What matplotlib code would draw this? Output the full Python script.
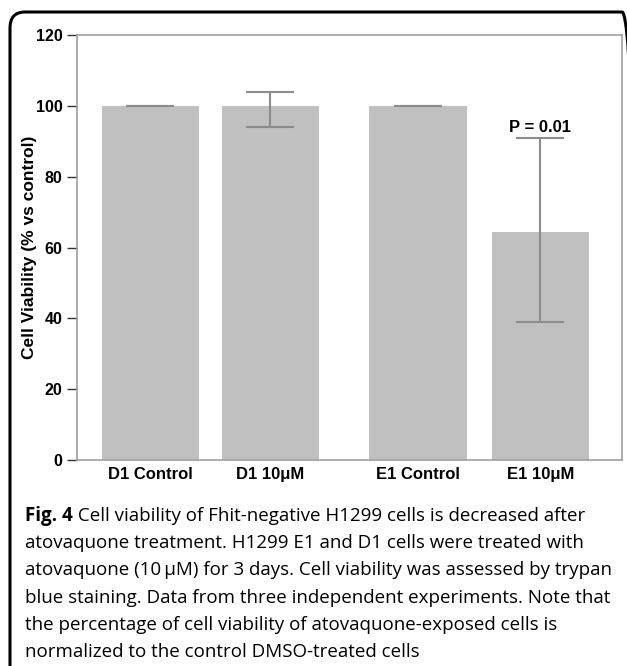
import matplotlib.pyplot as plt
from matplotlib.patches import FancyBboxPatch

# data
groups = ['D1 Control', 'D1 10\u03bcM', 'E1 Control', 'E1 10\u03bcM']
positions = [0, 1, 2.23, 3.25]
viability = [100, 100, 100, 64.5]
err_low = [0, 6, 0, 25.5]
err_high = [0, 4, 0, 26.5]
p_text = 'P = 0.01'

caption_bold = 'Fig. 4'
caption_lines = [
    ' Cell viability of Fhit-negative H1299 cells is decreased after',
    'atovaquone treatment. H1299 E1 and D1 cells were treated with',
    'atovaquone (10\u2009\u03bcM) for 3 days. Cell viability was assessed by trypan',
    'blue staining. Data from three independent experiments. Note that',
    'the percentage of cell viability of atovaquone-exposed cells is',
    'normalized to the control DMSO-treated cells',
]

W, H = 627, 666
fig = plt.figure(figsize=(W / 100, H / 100), dpi=100)

# rounded panel frame, cut off at the right and bottom
frame = FancyBboxPatch((10 / W, -0.05), 627 / W, 1.05 - 12 / H,
                       boxstyle='round,pad=0,rounding_size=0.024',
                       transform=fig.transFigure, fill=False,
                       edgecolor='black', linewidth=2.2, clip_on=False)
fig.patches.append(frame)

ax = fig.add_axes([77 / W, (H - 460) / H, 545 / W, 425 / H])
ax.bar(positions, viability, width=0.81, color='#c0c0c0', zorder=1)
ax.errorbar(positions, viability, yerr=[err_low, err_high], fmt='none',
            ecolor='#8c8c8c', elinewidth=1.5, capsize=17, capthick=1.5,
            zorder=2)
ax.text(positions[3], viability[3] + err_high[3] + 0.9, p_text,
        ha='center', va='bottom', fontsize=12, fontweight='bold',
        family='Liberation Sans')

ax.set_xlim(-0.61, 3.93)
ax.set_ylim(0, 120)
ax.set_yticks([0, 20, 40, 60, 80, 100, 120])
ax.set_xticks(positions)
ax.set_xticklabels(groups)
for lab in ax.get_xticklabels() + ax.get_yticklabels():
    lab.set_family('Liberation Sans')
    lab.set_fontweight('bold')
ax.tick_params(axis='y', length=7.5, width=1, color='#333333',
               labelsize=11.5, pad=3)
ax.tick_params(axis='x', length=0, labelsize=12, pad=5)
for s in ax.spines.values():
    s.set_color('#a0a0a0')
    s.set_linewidth(1.2)
ax.set_ylabel('Cell Viability (% vs control)', fontsize=12.5,
              fontweight='bold', family='Liberation Sans')
ax.yaxis.set_label_coords((37 - 77) / 545, 0.5)

# caption with bold lead-in
fig.canvas.draw()
r = fig.canvas.get_renderer()
y0 = H - 516
fs = 13.5
t = fig.text(25 / W, y0 / H, caption_bold, fontsize=fs, fontweight='bold',
             family='Open Sans', va='center')
bb = t.get_window_extent(r)
fig.text(bb.x1 / W, y0 / H, caption_lines[0], fontsize=fs,
         family='Open Sans', va='center')
for i, line in enumerate(caption_lines[1:], start=1):
    fig.text(25 / W, (y0 - 27.2 * i) / H, line, fontsize=fs,
             family='Open Sans', va='center')

fig.savefig('out.png', dpi=100)
